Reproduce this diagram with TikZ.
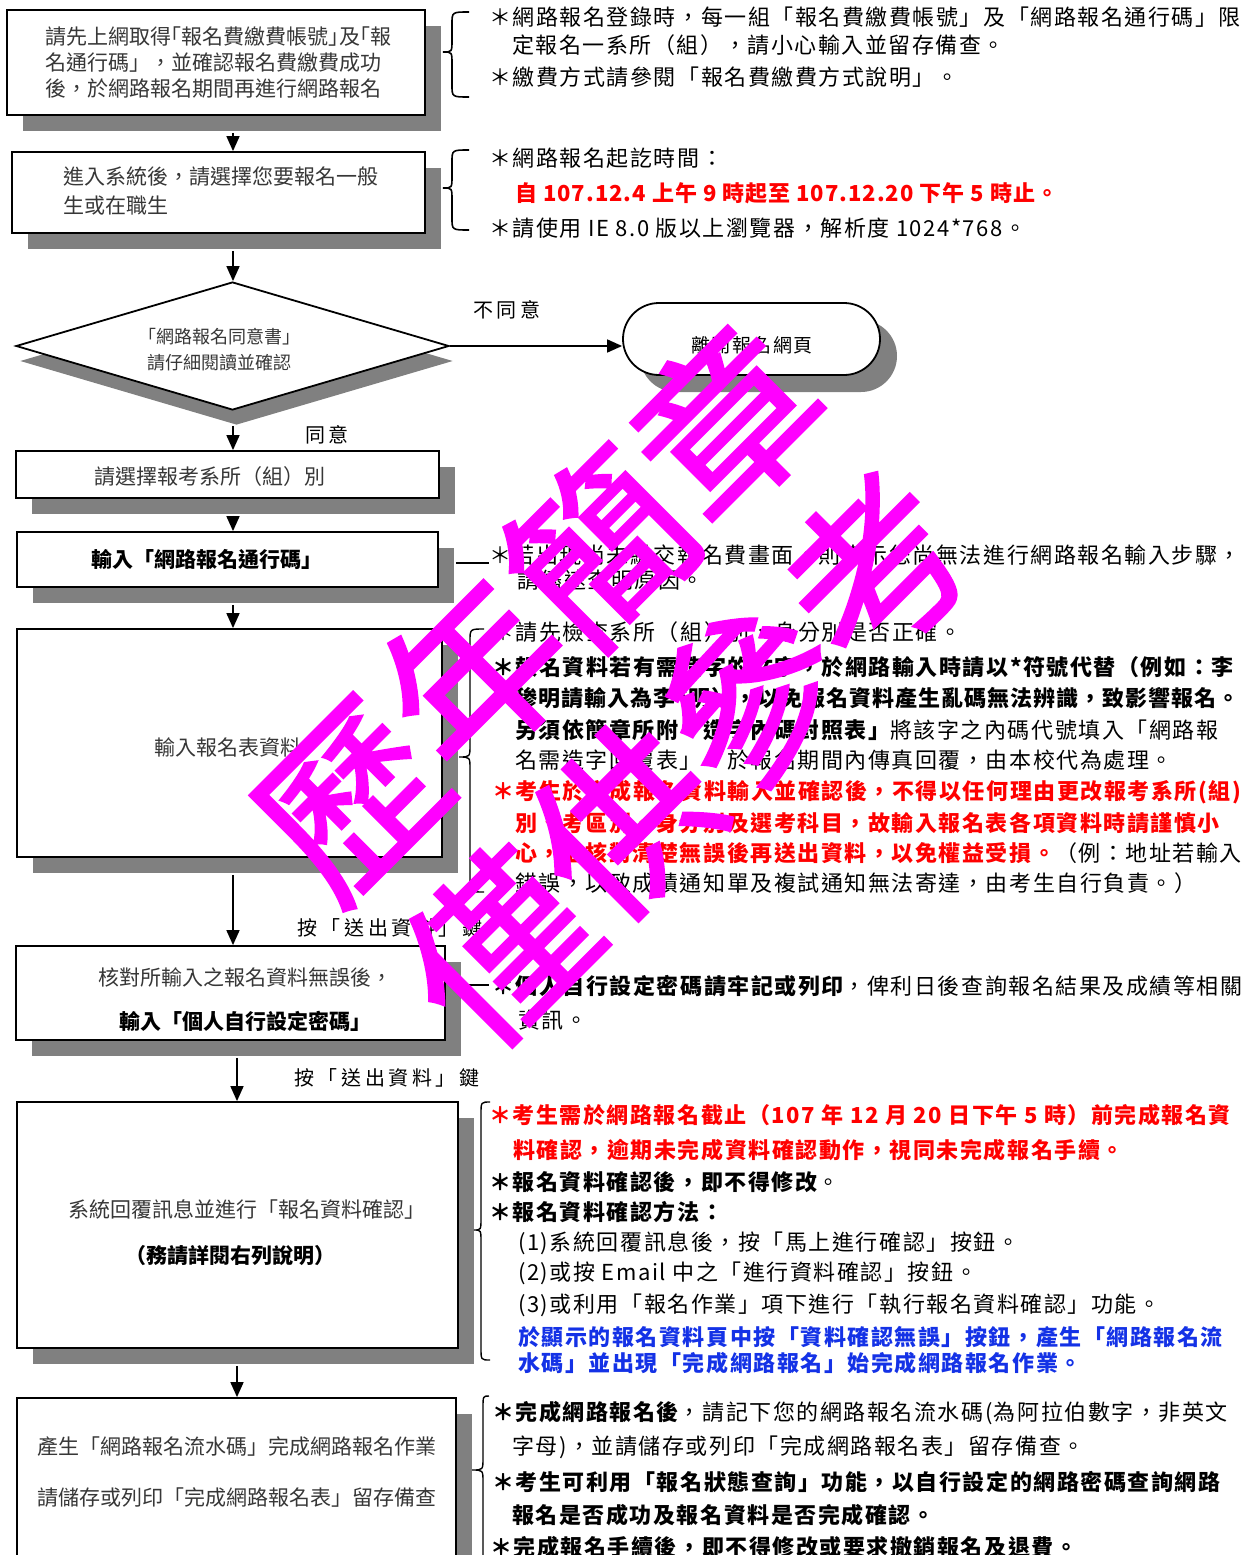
\documentclass[tikz,border=0pt]{standalone}
\usepackage{fontspec}
\setmainfont{Noto Sans CJK TC}
\newfontfamily\fBox{Noto Sans CJK TC}
\newfontfamily\fRt[LetterSpace=7]{Noto Sans CJK TC}
\newfontfamily\fRtN[LetterSpace=4.5]{Noto Sans CJK TC}
\newfontfamily\fLb[LetterSpace=18]{Noto Sans CJK TC}
\newfontfamily\fTm[LetterSpace=8]{Noto Sans CJK TC}
\newfontfamily\fWm[FakeBold=1.5]{Noto Sans CJK TC}
\newcommand\hb[1]{{\addfontfeature{RawFeature=+halt}#1}}
\usetikzlibrary{shapes.geometric,arrows.meta,shadows,calc}
\definecolor{shgray}{RGB}{128,128,128}
\definecolor{wmk}{RGB}{255,0,255}
\definecolor{rd}{RGB}{255,0,0}
\definecolor{bl}{RGB}{20,50,230}
\definecolor{bxt}{RGB}{55,55,55}
\tikzset{
  box/.style={draw,line width=1.8pt,fill=white,inner sep=0pt,
    drop shadow={shadow xshift=16pt,shadow yshift=-16pt,fill=shgray,opacity=1}},
  dia/.style={diamond,draw,line width=1.8pt,fill=white,inner sep=0pt,
    drop shadow={shadow xshift=4pt,shadow yshift=-15pt,fill=shgray,opacity=1}},
  term/.style={draw,line width=1.8pt,fill=white,inner sep=0pt,rounded corners=36pt,
    drop shadow={shadow xshift=17pt,shadow yshift=-17pt,fill=shgray,opacity=1}},
  arr/.style={line width=1.6pt,-{Triangle[length=15pt,width=13pt]}},
  ln/.style={line width=1.4pt},
  brc/.style={line width=1.6pt},
  bt/.style={inner sep=0pt,font=\fBox\fontsize{21}{26}\selectfont,text=bxt},
  btb/.style={inner sep=0pt,font=\fBox\fontsize{21}{26}\selectfont\bfseries,text=black},
  rt/.style={anchor=west,inner sep=0pt,font=\fRt\fontsize{22}{26}\selectfont},
  rtb/.style={rt,font=\fRt\fontsize{22}{26}\selectfont\bfseries},
  tight/.style={font=\fRtN\fontsize{22}{26}\selectfont\bfseries},
  rdb/.style={rtb,text=rd},
  blb/.style={rtb,text=bl},
  lbl/.style={inner sep=0pt,font=\fLb\fontsize{20}{24}\selectfont},
  wm/.style={inner sep=0pt,rotate=45,text=wmk,font=\fWm\fontsize{178}{178}\selectfont}
}
% optional style, then xend, xvert, xtip, ytop, ymid, ybot
\newcommand\mybrace[7][brc]{%
  \draw[#1] (#2,#5) .. controls (#3,#5) .. (#3,#5+12)
    -- (#3,#6-12) .. controls (#3,#6) .. (#4,#6)
    .. controls (#3,#6) .. (#3,#6+12)
    -- (#3,#7-12) .. controls (#3,#7) .. (#2,#7);}
\begin{document}
\begin{tikzpicture}[x=1pt,y=-1pt]
\useasboundingbox (0,0) rectangle (1254,1555);
\clip (0,0) rectangle (1254,1555);
% boxes
\node[box,minimum width=418pt,minimum height=105pt] (b1) at (216,62.5) {};
\node[box,minimum width=413pt,minimum height=81pt] (b2) at (218.5,192.5) {};
\node[dia,minimum width=433pt,minimum height=128pt] (dia) at (232.5,346) {};
\node[term,minimum width=257pt,minimum height=72pt] (term) at (751.5,339) {};
\node[box,minimum width=423pt,minimum height=47pt] (b3) at (227.5,474.5) {};
\node[box,minimum width=421pt,minimum height=55pt] (b4) at (227.5,559.5) {};
\node[box,minimum width=425pt,minimum height=228pt] (b5) at (229.5,743) {};
\node[box,minimum width=429pt,minimum height=94pt] (b6) at (230.5,993) {};
\node[box,minimum width=441pt,minimum height=246pt] (b7) at (237.5,1225) {};
\node[box,minimum width=439pt,minimum height=182pt] (b8) at (236.5,1489) {};
% box texts
\node[bt,anchor=west,align=left] (t1) at (45,62) {請先上網取得\hb{「}報名費繳費帳號\hb{」}及\hb{「}報\\名通行碼」，並確認報名費繳費成功\\後，於網路報名期間再進行網路報名};
\node[bt,anchor=west,align=left,font=\fBox\fontsize{21}{29}\selectfont] (t2) at (63,190.5) {進入系統後，請選擇您要報名一般\\生或在職生};
\node[bt,align=center,font=\fBox\fontsize{18}{26}\selectfont] (dt) at (219,350) {「網路報名同意書」\\請仔細閱讀並確認};
\node[inner sep=0pt,font=\fTm\fontsize{19}{22}\selectfont] (tt) at (752,345) {離開報名網頁};
\node[bt] (t3) at (210,477) {請選擇報考系所（組）別};
\node[btb] (t4) at (207,559) {輸入「網路報名通行碼」};
\node[bt] (t5) at (228,747) {輸入報名表資料};
\node[bt,align=center,font=\fBox\fontsize{21}{44}\selectfont] (t6) at (245,1000) {核對所輸入之報名資料無誤後，\\{\color{black}\bfseries 輸入「個人自行設定密碼」}};
\node[bt] (t7a) at (247,1209) {系統回覆訊息並進行「報名資料確認」};
\node[btb] (t7b) at (230,1256) {（務請詳閱右列說明）};
\node[bt,align=center,font=\fBox\fontsize{21}{51}\selectfont] (t8) at (237,1472.5) {產生「網路報名流水碼」完成網路報名作業\\請儲存或列印「完成網路報名表」留存備查};
% labels
\node[lbl] (l1) at (507,310) {不同意};
\node[lbl] (l2) at (327,435) {同意};
\node[lbl] (l3) at (390,928) {按「送出資料」鍵};
\node[lbl] (l4) at (387,1078) {按「送出資料」鍵};
% connectors
\coordinate (ax) at (233,0);
\coordinate (bx) at (237,0);
\draw[arr] ($(b1.south -| ax)+(0,17)$) -- (b2.north -| ax);
\draw[arr] ($(b2.south -| ax)+(0,17)$) -- (dia.north -| ax);
\draw[arr] (dia.east) -- (dia.east -| term.west);
\draw[arr] ($(dia.south -| ax)+(0,15)$) -- (b3.north -| ax);
\draw[arr] ($(b3.south -| ax)+(0,17)$) -- (b4.north -| ax);
\draw[arr] ($(b4.south -| ax)+(0,17)$) -- (b5.north -| ax);
\draw[arr] ($(b5.south -| ax)+(0,17)$) -- (b6.north -| ax);
\draw[arr] ($(b6.south -| bx)+(0,17)$) -- (b7.north -| bx);
\draw[arr] ($(b7.south -| bx)+(0,17)$) -- (b8.north -| bx);
\coordinate (c4) at (489,563);
\coordinate (c6) at (489,985);
\draw[ln] ($(b4.east)+(17,3.5)$) -- (c4);
\draw[ln] ($(b6.east)+(17,-8)$) -- (c6);
% braces
\mybrace{469}{452}{443}{12}{52}{97}
\mybrace{469}{452}{443}{150}{188}{230}
\mybrace[brc,line width=1.4pt]{484}{470}{459}{629}{757}{892}
\mybrace[brc,line width=1.4pt]{490}{481}{474}{1102}{1230}{1360}
\mybrace[brc,line width=1.4pt]{489}{483}{472}{1396}{1470}{1580}
% right texts
\node[rt] (r1a) at (489,17) {＊網路報名登錄時，每一組「報名費繳費帳號」及「網路報名通行碼」限};
\node[rt] (r1b) at (512,45) {定報名一系所（組），請小心輸入並留存備查。};
\node[rt] (r1c) at (489,77) {＊繳費方式請參閱「報名費繳費方式說明」。};
\node[rt] (r2a) at (489,158) {＊網路報名起訖時間：};
\node[rdb,tight] (r2b) at (515,193) {自 107.12.4 上午 9 時起至 107.12.20 下午 5 時止。};
\node[rt] (r2c) at (489,228) {＊請使用 IE 8.0 版以上瀏覽器，解析度 1024*768。};
\node[rt] (r3a) at (489,555) {＊若出現尚未繳交報名費畫面，則表示您尚無法進行網路報名輸入步驟，};
\node[rt] (r3b) at (517,580) {請儘速查明原因。};
\node[rt] (r4a) at (492,632) {＊請先檢查系所（組）別、身分別是否正確。};
\node[rtb] (r4b) at (492,667) {＊報名資料若有需造字的文字，於網路輸入時請以*符號代替（例如：李};
\node[rtb,tight] (r4c) at (515,698) {䅟明請輸入為李*明），以免報名資料產生亂碼無法辨識，致影響報名。};
\node[rt] (r4d) at (515,730) {{\bfseries 另須依簡章所附「造字內碼對照表」}將該字之內碼代號填入「網路報};
\node[rt] (r4e) at (515,760) {名需造字回覆表」，於報名期間內傳真回覆，由本校代為處理。};
\node[rdb] (r4f) at (492,792) {＊考生於完成報名資料輸入並確認後，不得以任何理由更改報考系所(組)};
\node[rdb] (r4g) at (515,823) {別、考區別、身分別及選考科目，故輸入報名表各項資料時請謹慎小};
\node[rt] (r4h) at (515,853) {{\color{rd}\bfseries 心，並核對清楚無誤後再送出資料，以免權益受損。}（例：地址若輸入};
\node[rt] (r4i) at (515,883) {錯誤，以致成績通知單及複試通知無法寄達，由考生自行負責。）};
\node[rt] (r5a) at (492,986) {{\bfseries ＊個人自行設定密碼請牢記或列印}，俾利日後查詢報名結果及成績等相關};
\node[rt] (r5b) at (518,1020) {資訊。};
\node[rdb] (r6a) at (489,1115) {＊考生需於網路報名截止（107 年 12 月 20 日下午 5 時）前完成報名資};
\node[rdb] (r6b) at (513,1150) {料確認，逾期未完成資料確認動作，視同未完成報名手續。};
\node[rt] (r6c) at (489,1182) {{\bfseries ＊報名資料確認後，即不得修改}。};
\node[rtb] (r6d) at (489,1212) {＊報名資料確認方法：};
\node[rt] (r6e) at (518,1243) {(1)系統回覆訊息後，按「馬上進行確認」按鈕。};
\node[rt] (r6f) at (518,1273) {(2)或按 Email 中之「進行資料確認」按鈕。};
\node[rt] (r6g) at (518,1305) {(3)或利用「報名作業」項下進行「執行報名資料確認」功能。};
\node[blb] (r6h) at (518,1337) {於顯示的報名資料頁中按「資料確認無誤」按鈕，產生「網路報名流};
\node[blb] (r6i) at (518,1363) {水碼」並出現「完成網路報名」始完成網路報名作業。};
\node[rt] (r7a) at (492,1413) {{\bfseries ＊完成網路報名後}，請記下您的網路報名流水碼(為阿拉伯數字，非英文};
\node[rt] (r7b) at (512,1447) {字母)，並請儲存或列印「完成網路報名表」留存備查。};
\node[rtb] (r7c) at (492,1482) {＊考生可利用「報名狀態查詢」功能，以自行設定的網路密碼查詢網路};
\node[rtb] (r7d) at (512,1515) {報名是否成功及報名資料是否完成確認。};
\node[rtb] (r7e) at (490,1547) {＊完成報名手續後，即不得修改或要求撤銷報名及退費。};
% watermark
\node[wm] (w1) at (537,610) {歷年簡章};
\node[wm] (w2) at (686,758) {僅供參考};
\end{tikzpicture}
\end{document}
